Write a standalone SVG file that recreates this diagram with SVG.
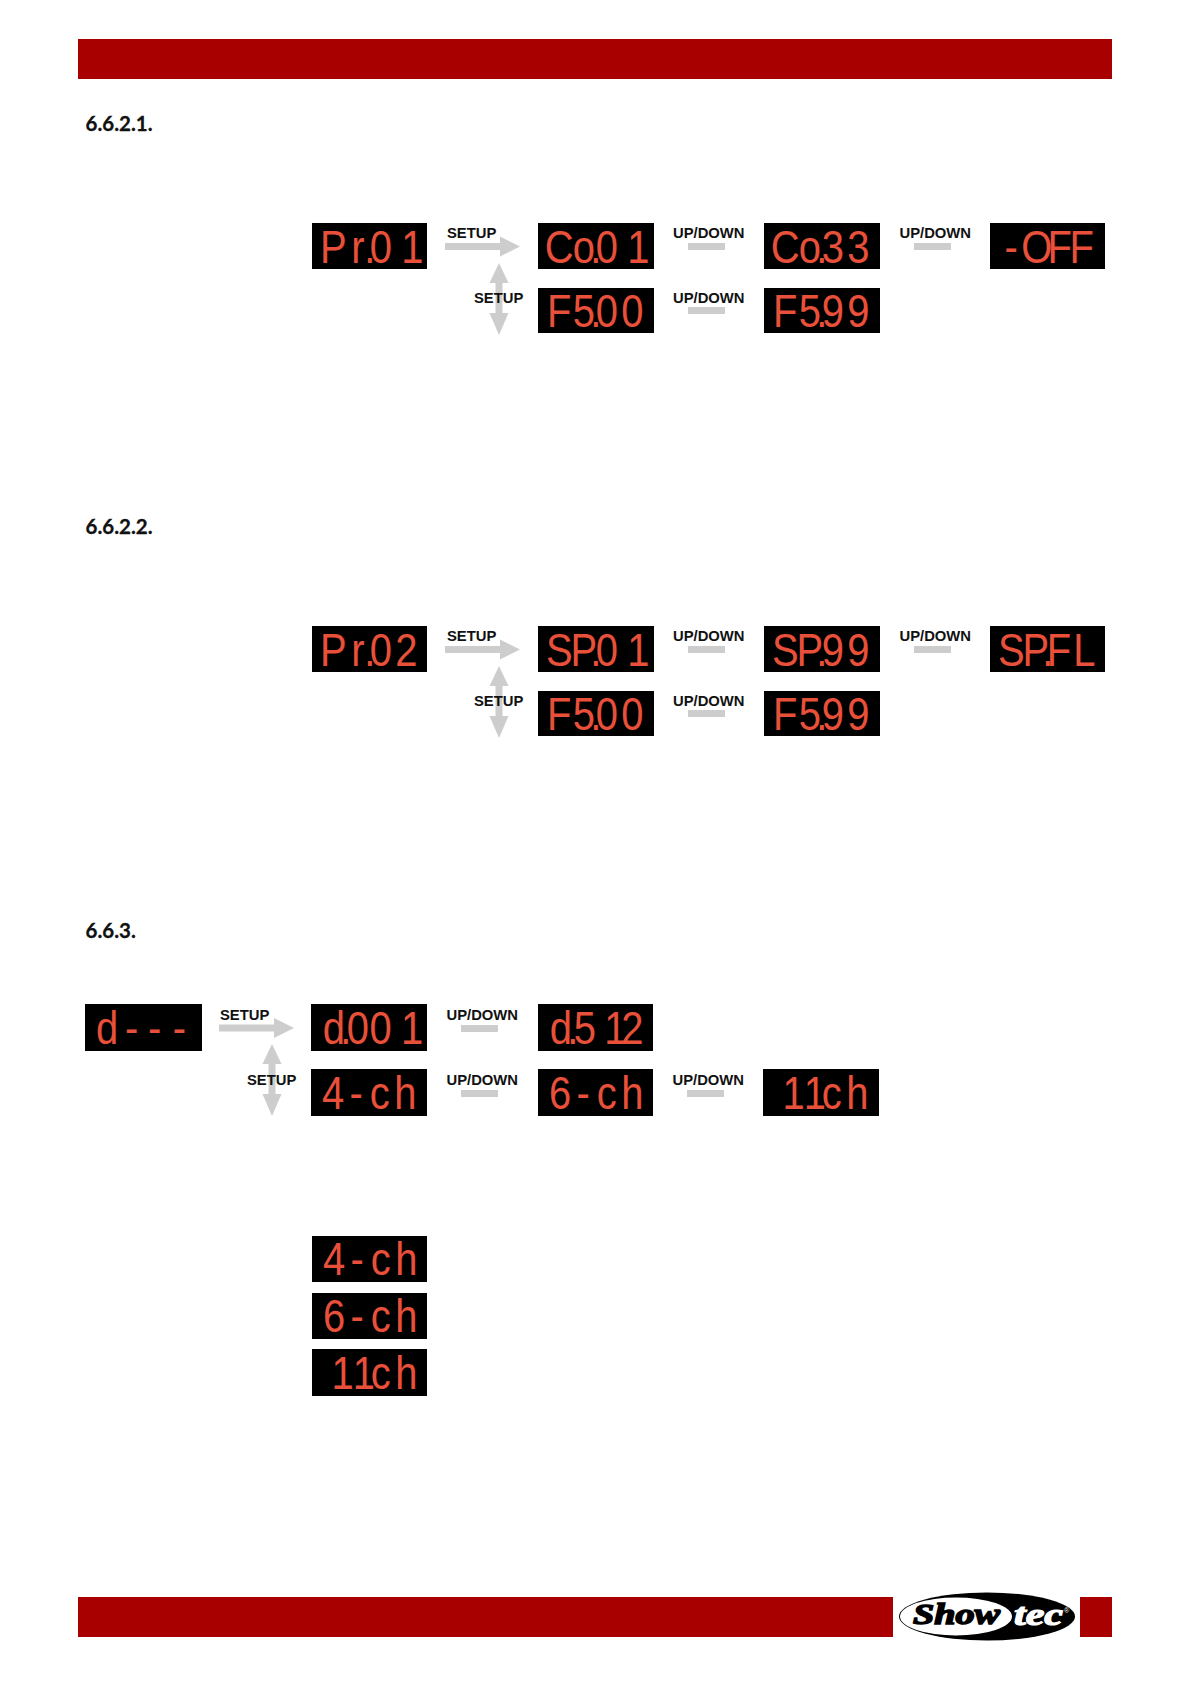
<svg xmlns="http://www.w3.org/2000/svg" width="1191" height="1684" viewBox="0 0 1191 1684">
<style>
.band{fill:#a80000}
.h{font:700 20.5px Lato,"Liberation Sans",sans-serif;fill:#111;stroke:#111;stroke-width:.3}
.l{font:700 14.8px "Liberation Sans",Arial,sans-serif;fill:#111}
.box{fill:#000}
.seg{font:400 47px "Liberation Sans",Arial,sans-serif;fill:#e8503a;text-anchor:middle}
.g{fill:#cdcdcd}
</style>
<defs>
<path id="ar" class="g" d="M0 6.500H55V0L75 10 55 20V13.500H0Z"/>
<path id="dbl" class="g" d="M9.500 0L19 20H13V50H19L9.500 72 0 50H6V20H0Z"/>
<rect id="bar" class="g" width="37" height="7"/>
</defs>
<rect class="band" x="78" y="39" width="1034" height="40"/>
<rect class="band" x="78" y="1597" width="815" height="40"/>
<rect class="band" x="1080" y="1597" width="32" height="40"/>
<g id="logo">
<ellipse cx="987" cy="1616.500" rx="88" ry="24" fill="#000"/>
<ellipse cx="956" cy="1616.500" rx="56" ry="19" fill="#fff"/>
<text x="913" y="1624" font-family="'Liberation Serif',serif" font-weight="700" font-style="italic" font-size="29" stroke="#000" stroke-width="1.500" fill="#000" textLength="87" lengthAdjust="spacingAndGlyphs">Show</text>
<text x="1014" y="1625" font-family="'Liberation Serif',serif" font-weight="700" font-style="italic" font-size="31" stroke="#fff" stroke-width="1.200" fill="#fff" textLength="49" lengthAdjust="spacingAndGlyphs">tec</text>
<text x="1064" y="1613" font-family="'Liberation Sans',sans-serif" font-size="7" fill="#fff">®</text>
</g>
<text class="h" x="85.500" y="131">6.6.2.1.</text>
<text class="h" x="85.500" y="534">6.6.2.2.</text>
<text class="h" x="85.500" y="938">6.6.3.</text>

<g id="connectors">
<use href="#ar" x="445" y="236.500"/><use href="#dbl" x="489.500" y="263"/>
<use href="#bar" x="688" y="243"/><use href="#bar" x="914" y="243"/><use href="#bar" x="688" y="307"/>
<use href="#ar" x="445" y="639.500"/><use href="#dbl" x="489.500" y="666"/>
<use href="#bar" x="688" y="646"/><use href="#bar" x="914" y="646"/><use href="#bar" x="688" y="710"/>
<use href="#ar" x="219" y="1018"/><use href="#dbl" x="262.500" y="1044"/>
<use href="#bar" x="461" y="1025"/><use href="#bar" x="687" y="1090"/><use href="#bar" x="461" y="1090"/>
</g>
<g id="labels">
<text class="l" x="447" y="238">SETUP</text><text class="l" x="474" y="303">SETUP</text>
<text class="l" x="673" y="238">UP/DOWN</text><text class="l" x="899.500" y="238">UP/DOWN</text><text class="l" x="673" y="303">UP/DOWN</text>
<text class="l" x="447" y="641">SETUP</text><text class="l" x="474" y="706">SETUP</text>
<text class="l" x="673" y="641">UP/DOWN</text><text class="l" x="899.500" y="641">UP/DOWN</text><text class="l" x="673" y="706">UP/DOWN</text>
<text class="l" x="220" y="1020">SETUP</text><text class="l" x="247" y="1085">SETUP</text>
<text class="l" x="446.500" y="1020">UP/DOWN</text><text class="l" x="446.500" y="1085">UP/DOWN</text><text class="l" x="672.500" y="1085">UP/DOWN</text>
</g>

<g id="d1"><rect class="box" x="312" y="223" width="115" height="46"/><text class="seg" transform="translate(312 0) scale(.85 1)" x="25 54 68 81 118" y="263">Pr.01</text></g>
<g id="d2"><rect class="box" x="538" y="223" width="116" height="46"/><text class="seg" transform="translate(538 0) scale(.85 1)" x="25 54 68 81 118" y="263">Co.01</text></g>
<g id="d3"><rect class="box" x="764" y="223" width="116" height="46"/><text class="seg" transform="translate(764 0) scale(.85 1)" x="25 54 68 81 111" y="263">Co.33</text></g>
<g id="d4"><rect class="box" x="990" y="223" width="115" height="46"/><text class="seg" transform="translate(990 0) scale(.85 1)" x="25 55 82 108" y="263">-OFF</text></g>
<g id="d5"><rect class="box" x="538" y="288" width="116" height="45"/><text class="seg" transform="translate(538 0) scale(.85 1)" x="25 54 68 81 111" y="327">F5.00</text></g>
<g id="d6"><rect class="box" x="764" y="288" width="116" height="45"/><text class="seg" transform="translate(764 0) scale(.85 1)" x="25 54 68 81 111" y="327">F5.99</text></g>

<g id="d7"><rect class="box" x="312" y="626" width="115" height="46"/><text class="seg" transform="translate(312 0) scale(.85 1)" x="25 54 68 81 111" y="666">Pr.02</text></g>
<g id="d8"><rect class="box" x="538" y="626" width="116" height="46"/><text class="seg" transform="translate(538 0) scale(.85 1)" x="25 54 68 81 118" y="666">SP.01</text></g>
<g id="d9"><rect class="box" x="764" y="626" width="116" height="46"/><text class="seg" transform="translate(764 0) scale(.85 1)" x="25 54 68 81 111" y="666">SP.99</text></g>
<g id="d10"><rect class="box" x="990" y="626" width="115" height="46"/><text class="seg" transform="translate(990 0) scale(.85 1)" x="25 54 68 81 111" y="666">SP.FL</text></g>
<g id="d11"><rect class="box" x="538" y="691" width="116" height="45"/><text class="seg" transform="translate(538 0) scale(.85 1)" x="25 54 68 81 111" y="730">F5.00</text></g>
<g id="d12"><rect class="box" x="764" y="691" width="116" height="45"/><text class="seg" transform="translate(764 0) scale(.85 1)" x="25 54 68 81 111" y="730">F5.99</text></g>

<g id="d13"><rect class="box" x="85" y="1004" width="117" height="47"/><text class="seg" transform="translate(85 0) scale(.85 1)" x="26 55 82 111" y="1044">d---</text></g>
<g id="d14"><rect class="box" x="311" y="1004" width="116" height="47"/><text class="seg" transform="translate(311 0) scale(.85 1)" x="27 41 55 82 119" y="1044">d.001</text></g>
<g id="d15"><rect class="box" x="538" y="1004" width="115" height="47"/><text class="seg" transform="translate(538 0) scale(.85 1)" x="27 41 55 91 111" y="1044">d.512</text></g>
<g id="d16"><rect class="box" x="311" y="1069" width="116" height="47"/><text class="seg" transform="translate(311 0) scale(.85 1)" x="26 53 81 111" y="1109">4-ch</text></g>
<g id="d17"><rect class="box" x="538" y="1069" width="115" height="47"/><text class="seg" transform="translate(538 0) scale(.85 1)" x="26 53 81 111" y="1109">6-ch</text></g>
<g id="d18"><rect class="box" x="763" y="1069" width="116" height="47"/><text class="seg" transform="translate(763 0) scale(.85 1)" x="36 61 81 111" y="1109">11ch</text></g>

<g id="d19"><rect class="box" x="312" y="1236" width="115" height="46"/><text class="seg" transform="translate(312 0) scale(.85 1)" x="26 53 81 111" y="1275">4-ch</text></g>
<g id="d20"><rect class="box" x="312" y="1293" width="115" height="46"/><text class="seg" transform="translate(312 0) scale(.85 1)" x="26 53 81 111" y="1332">6-ch</text></g>
<g id="d21"><rect class="box" x="312" y="1349" width="115" height="47"/><text class="seg" transform="translate(312 0) scale(.85 1)" x="36 61 81 111" y="1389">11ch</text></g>
</svg>
